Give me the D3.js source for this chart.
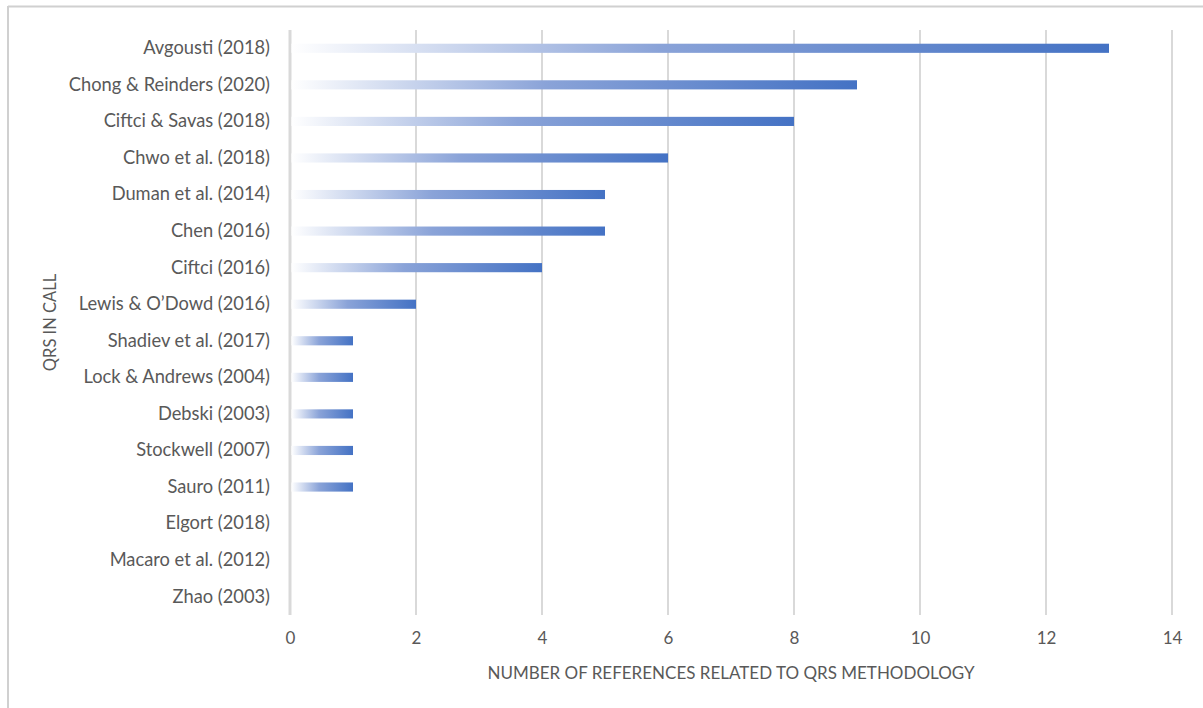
<!DOCTYPE html>
<html>
<head>
  <meta charset="UTF-8" />
  <title>QRS in CALL</title>
  <style>
    body { margin: 0; background: #fff; }
    svg text { font-family: Lato, "Open Sans", sans-serif; fill: #595959; }
  </style>
  <script src="https://d3js.org/d3.v7.min.js"></script>
</head>
<body>
  <div id="chart"></div>
  <script>
    const studies = ["Avgousti (2018)", "Chong & Reinders (2020)", "Ciftci & Savas (2018)", "Chwo et al. (2018)",
      "Duman et al. (2014)", "Chen (2016)", "Ciftci (2016)", "Lewis & O\u2019Dowd (2016)", "Shadiev et al. (2017)",
      "Lock & Andrews (2004)", "Debski (2003)", "Stockwell (2007)", "Sauro (2011)", "Elgort (2018)",
      "Macaro et al. (2012)", "Zhao (2003)"];
    const refs = [13, 9, 8, 6, 5, 5, 4, 2, 1, 1, 1, 1, 1, 0, 0, 0];
    const xTicks = [0, 2, 4, 6, 8, 10, 12, 14];

    const W = 1203, H = 708;
    const margin = { top: 30, right: 31, bottom: 93, left: 290 };
    const width = W - margin.left - margin.right,
      height = H - margin.top - margin.bottom;

    const svg = d3.select("#chart").append("svg")
      .attr("width", W).attr("height", H);

    // chart frame (only top and left edges visible)
    svg.append("line").attr("x1", 8).attr("x2", W).attr("y1", 6.5).attr("y2", 6.5)
      .attr("stroke", "#d0d0d0").attr("stroke-width", 2);
    svg.append("line").attr("x1", 8).attr("x2", 8).attr("y1", 6).attr("y2", H)
      .attr("stroke", "#d0d0d0").attr("stroke-width", 2);

    const grad = svg.append("defs").append("linearGradient")
      .attr("id", "barGrad").attr("x1", "0%").attr("x2", "100%");
    grad.append("stop").attr("offset", "0%").attr("stop-color", "#ffffff");
    grad.append("stop").attr("offset", "45%").attr("stop-color", "#8aa3d8");
    grad.append("stop").attr("offset", "100%").attr("stop-color", "#4472c4");

    const g = svg.append("g").attr("transform", `translate(${margin.left},${margin.top})`);

    const x = d3.scaleLinear().domain([0, 14]).range([0, width]);
    const y = d3.scaleBand().domain(studies).range([0, height]).paddingInner(0.75).paddingOuter(0.375);

    // vertical gridlines
    g.selectAll("line.grid").data(xTicks).enter().append("line")
      .attr("class", "grid")
      .attr("x1", d => x(d)).attr("x2", d => x(d))
      .attr("y1", 0).attr("y2", height)
      .attr("stroke", "#d9d9d9")
      .attr("stroke-width", d => d === 0 ? 3 : 2);

    g.selectAll("rect.bar").data(refs).enter().append("rect")
      .attr("class", "bar")
      .attr("x", x(0) + 1.5)
      .attr("y", (d, i) => y(studies[i]))
      .attr("height", y.bandwidth())
      .attr("width", d => Math.max(0, x(d) - x(0) - 1.5))
      .attr("fill", "url(#barGrad)");

    const xAxis = g.append("g").attr("transform", `translate(0,${height})`)
      .call(d3.axisBottom(x).tickValues(xTicks).tickSize(0).tickPadding(17));
    xAxis.select(".domain").remove();
    xAxis.selectAll("text").style("font-size", "17px").attr("fill", "#595959");

    const yAxis = g.append("g")
      .call(d3.axisLeft(y).tickSize(0).tickPadding(20));
    yAxis.select(".domain").remove();
    yAxis.selectAll("text").style("font-size", "18.3px").attr("fill", "#595959");

    svg.append("text")
      .attr("x", margin.left + width / 2)
      .attr("y", 679)
      .attr("text-anchor", "middle")
      .style("font-size", "17px")
      .text("NUMBER OF REFERENCES RELATED TO QRS METHODOLOGY");

    svg.append("text")
      .attr("transform", `translate(56,${margin.top + height / 2}) rotate(-90)`)
      .attr("text-anchor", "middle")
      .style("font-size", "16.5px")
      .text("QRS IN CALL");
  </script>
</body>
</html>
